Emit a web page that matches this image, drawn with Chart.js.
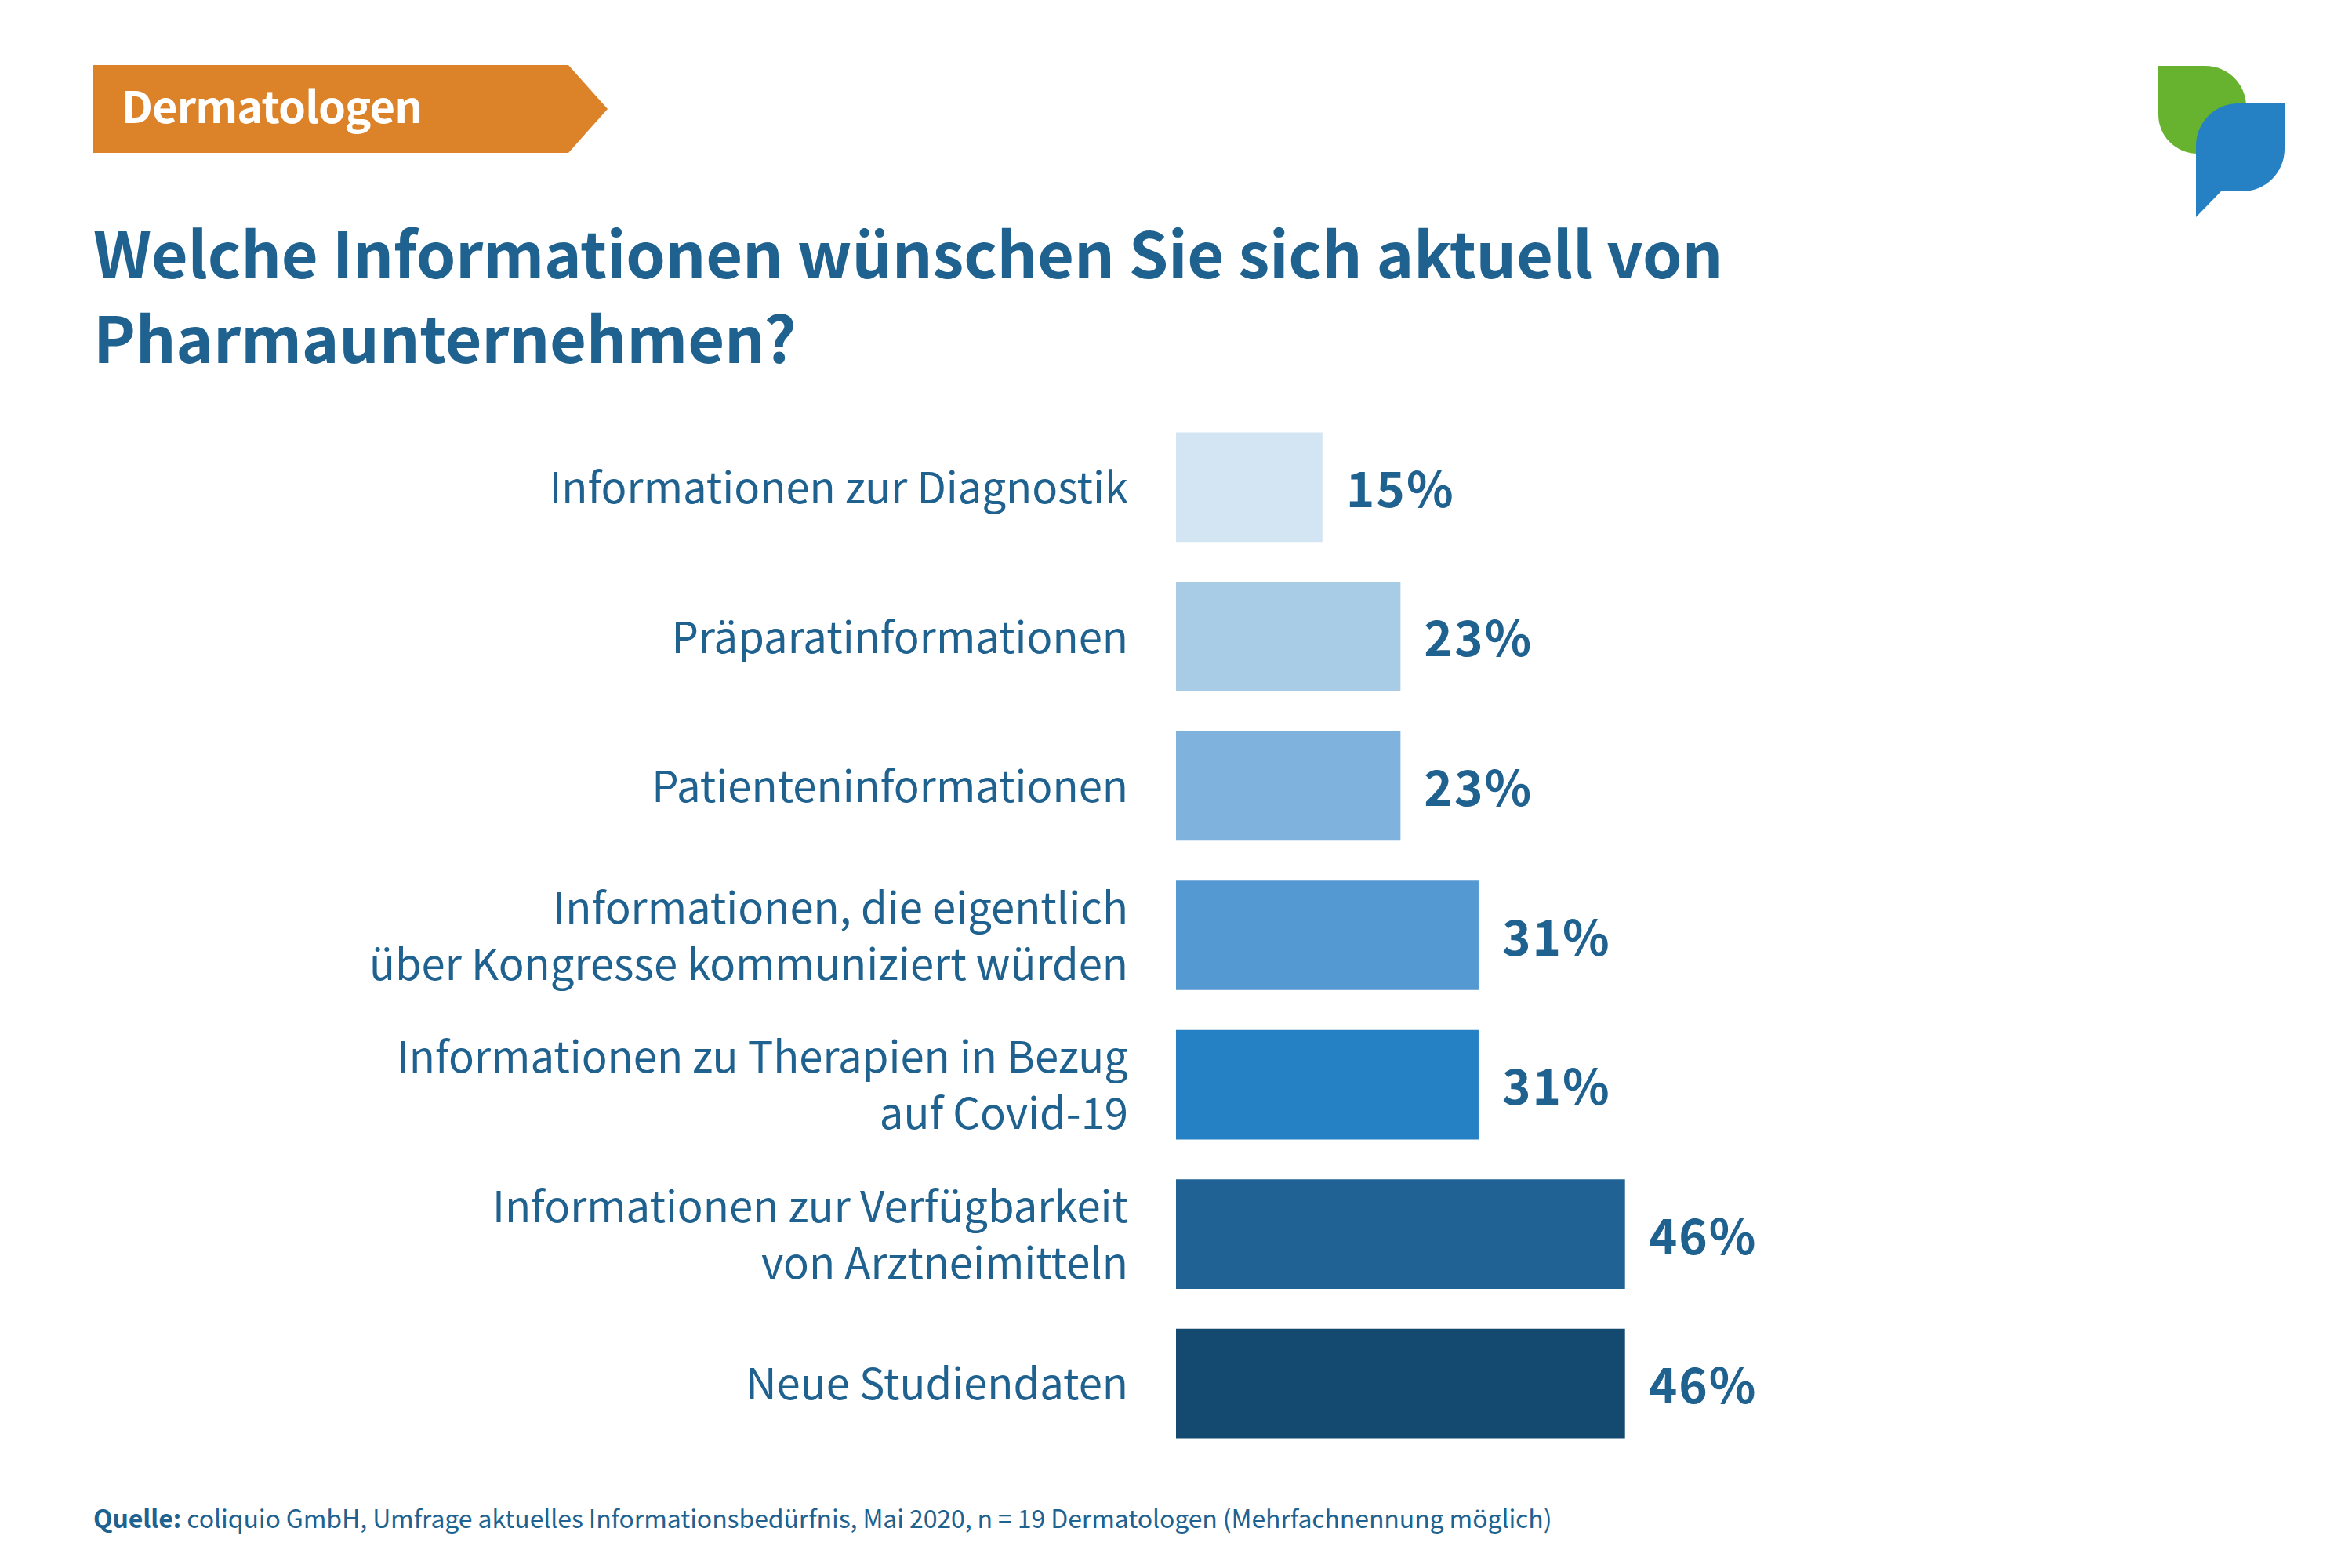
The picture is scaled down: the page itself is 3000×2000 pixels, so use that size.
<!DOCTYPE html>
<html lang="de">
<head>
<meta charset="utf-8">
<title>Dermatologen</title>
<script src="https://cdn.jsdelivr.net/npm/chart.js@4"></script>
<style>
  html, body { margin: 0; padding: 0; background: #fff; }
  body { width: 3000px; height: 2000px; position: relative; overflow: hidden;
         font-family: "Noto Sans CJK SC", "Source Sans Pro", Lato, sans-serif; color: #20628f; }
  canvas { position: absolute; left: 0; top: 0; }
  .abs { position: absolute; white-space: nowrap; }
  #badgeText { left: 155px; top: 88px; font-size: 56px; line-height: 90px; font-weight: 700; color: #fff; letter-spacing: -0.9px; }
  #title { left: 119px; top: 266px; font-size: 81px; line-height: 108px; font-weight: 700; letter-spacing: -0.28px; }
  #source { left: 119px; top: 1910px; font-size: 32px; line-height: 50px; letter-spacing: -0.09px; }
  svg { position: absolute; left: 0; top: 0; }
</style>
</head>
<body>
<svg width="3000" height="400" viewBox="0 0 3000 400">
  <polygon points="119,83 725,83 775,139 725,195 119,195" fill="#dc832a"/>
  <path d="M2753 84 H2813 A52 52 0 0 1 2865 136 V196 H2803 A50 50 0 0 1 2753 146 Z" fill="#67b32f"/>
  <path d="M2801 186 A54 54 0 0 1 2855 132 H2914 V190 A54 54 0 0 1 2860 244 H2833 L2801 277 Z" fill="#2680c4"/>
</svg>
<div class="abs" id="badgeText">Dermatologen</div>
<div class="abs" id="title">Welche Informationen wünschen Sie sich aktuell von<br>Pharmaunternehmen?</div>
<div class="abs" id="source"><b>Quelle:</b> coliquio GmbH, Umfrage aktuelles Informationsbedürfnis, Mai 2020, n = 19 Dermatologen (Mehrfachnennung möglich)</div>
<canvas id="myChart" width="3000" height="2000"></canvas>
<script>
const categories = [
  'Informationen zur Diagnostik',
  'Präparatinformationen',
  'Patienteninformationen',
  ['Informationen, die eigentlich', 'über Kongresse kommuniziert würden'],
  ['Informationen zu Therapien in Bezug', 'auf Covid-19'],
  ['Informationen zur Verfügbarkeit', 'von Arztneimitteln'],
  'Neue Studiendaten'
];
const shares = [15, 23, 23, 31, 31, 46, 46];
const barColors = ['#d3e5f3', '#a9cce6', '#7fb3dd', '#5499d2', '#2680c4', '#206294', '#154a70'];
const textColor = '#20628f';
const fontFamily = '"Noto Sans CJK SC", "Source Sans Pro", Lato, sans-serif';

// percent labels to the right of each bar
const valueLabels = {
  id: 'valueLabels',
  afterDatasetsDraw(chart) {
    const ctx = chart.ctx;
    ctx.save();
    ctx.fillStyle = textColor;
    ctx.font = '700 62px ' + fontFamily;
    ctx.letterSpacing = '2px';
    ctx.textAlign = 'left';
    ctx.textBaseline = 'middle';
    chart.getDatasetMeta(0).data.forEach((bar, i) => {
      ctx.fillText(shares[i] + '%', bar.x + 30, bar.y + 2);
    });
    ctx.restore();
  }
};

new Chart(document.getElementById('myChart').getContext('2d'), {
  type: 'bar',
  data: {
    labels: categories,
    datasets: [{
      data: shares,
      backgroundColor: barColors,
      borderWidth: 0,
      barPercentage: 0.733,
      categoryPercentage: 1
    }]
  },
  options: {
    indexAxis: 'y',
    responsive: false,
    animation: false,
    devicePixelRatio: 1,
    layout: { padding: { top: 526, bottom: 140, left: 0, right: 255 } },
    plugins: { legend: { display: false }, tooltip: { enabled: false } },
    scales: {
      x: { display: false, min: 0, max: 100 },
      y: {
        afterFit(scale) { scale.width = 1500; },
        grid: { display: false, drawTicks: false },
        border: { display: false },
        ticks: {
          color: textColor,
          padding: 61,
          font: { size: 54.4, family: fontFamily, lineHeight: 1.32 }
        }
      }
    }
  },
  plugins: [valueLabels]
});
</script>
</body>
</html>
